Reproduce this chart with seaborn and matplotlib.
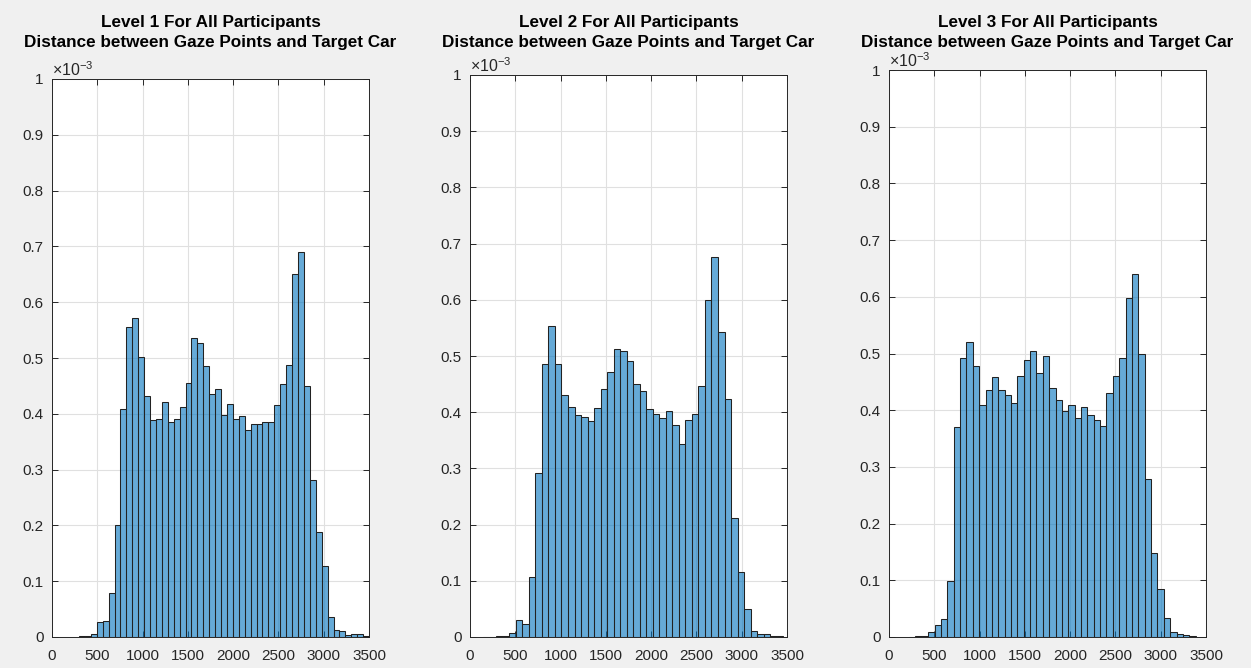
import numpy as np
import matplotlib
matplotlib.use("Agg")
import matplotlib.pyplot as plt
import seaborn as sns
from matplotlib.ticker import FuncFormatter

# ---------------- data (pdf values, in units of 1e-3) ----------------
titles = ["Level 1 For All Participants\nDistance between Gaze Points and Target Car",
          "Level 2 For All Participants\nDistance between Gaze Points and Target Car",
          "Level 3 For All Participants\nDistance between Gaze Points and Target Car"]

bin_start = [298.0, 146.0, 222.0]
bin_width = [65.35, 72.0, 70.3]

heights1 = [0.001, 0.002, 0.006, 0.026, 0.029, 0.078, 0.200, 0.409, 0.556, 0.571,
            0.501, 0.432, 0.388, 0.391, 0.421, 0.385, 0.391, 0.412, 0.456, 0.535,
            0.526, 0.485, 0.435, 0.445, 0.397, 0.417, 0.391, 0.396, 0.371, 0.382,
            0.382, 0.386, 0.386, 0.416, 0.453, 0.488, 0.650, 0.690, 0.450, 0.281,
            0.189, 0.128, 0.036, 0.013, 0.011, 0.004, 0.005, 0.005, 0.002]

heights2 = [0.0005, 0.0005, 0.001, 0.002, 0.008, 0.030, 0.024, 0.106, 0.292, 0.486,
            0.554, 0.486, 0.430, 0.410, 0.395, 0.391, 0.385, 0.407, 0.442, 0.471,
            0.512, 0.509, 0.491, 0.451, 0.438, 0.405, 0.396, 0.389, 0.402, 0.377,
            0.343, 0.387, 0.396, 0.447, 0.599, 0.676, 0.543, 0.423, 0.211, 0.116,
            0.049, 0.011, 0.006, 0.006, 0.002, 0.002]

heights3 = [0.0005, 0.001, 0.001, 0.009, 0.021, 0.032, 0.099, 0.371, 0.492, 0.520,
            0.478, 0.409, 0.435, 0.459, 0.435, 0.426, 0.412, 0.461, 0.489, 0.504,
            0.466, 0.496, 0.439, 0.418, 0.399, 0.409, 0.386, 0.405, 0.391, 0.382,
            0.372, 0.431, 0.460, 0.492, 0.598, 0.640, 0.499, 0.279, 0.148, 0.084,
            0.034, 0.009, 0.005, 0.004, 0.001]

all_heights = [heights1, heights2, heights3]
xticks = [0, 500, 1000, 1500, 2000, 2500, 3000, 3500]
yticks = [0, 0.1, 0.2, 0.3, 0.4, 0.5, 0.6, 0.7, 0.8, 0.9, 1.0]

# ---------------- style ----------------
sns.set_style("ticks")
plt.rcParams['font.family'] = ['Liberation Sans', 'DejaVu Sans']
plt.rcParams['mathtext.fontset'] = 'custom'
plt.rcParams['mathtext.rm'] = 'Liberation Sans'
plt.rcParams['mathtext.it'] = 'Liberation Sans'

W, H = 1251, 668
fig = plt.figure(figsize=(W / 100, H / 100), dpi=100)
fig.patch.set_facecolor('#f0f0f0')

# axes boxes in pixels: left, right, top, bottom
boxes = [(52, 369, 79, 637), (470, 787, 75, 637), (889, 1206, 70, 637)]

bar_color = '#0072BD'
txt_color = '#262626'

for i, (l, r, t, b) in enumerate(boxes):
    ax = fig.add_axes([l / W, (H - b) / H, (r - l) / W, (b - t) / H])
    ax.set_facecolor('white')
    h = all_heights[i]
    edges = [float(v) for v in bin_start[i] + bin_width[i] * np.arange(len(h) + 1)]
    centers = [(edges[k] + edges[k + 1]) / 2 for k in range(len(h))]
    sns.histplot(x=centers, weights=h, bins=edges, ax=ax, color=bar_color,
                 alpha=0.6, edgecolor='#222222', linewidth=0.75, zorder=2)
    ax.set_xlim(0, 3500)
    ax.set_ylim(0, 1)
    ax.set_xticks(xticks)
    ax.set_yticks(yticks)
    ax.yaxis.set_major_formatter(FuncFormatter(lambda v, p: f"{v:g}"))
    ax.set_xlabel("")
    ax.set_ylabel("")
    ax.grid(True, color='#e0e0e0', linewidth=0.8, zorder=0)
    ax.set_axisbelow(True)
    for s in ax.spines.values():
        s.set_visible(True)
        s.set_color('#262626')
        s.set_linewidth(0.7)
    ax.tick_params(axis='both', direction='in', top=True, right=True,
                   length=4, width=0.7, color='#262626', labelsize=11,
                   labelcolor=txt_color)
    ax.tick_params(axis='x', pad=9)
    ax.tick_params(axis='y', pad=6)
    ax.text(0.0, 1.0, r"$\times10^{-3}$", transform=ax.transAxes,
            ha='left', va='bottom', fontsize=11.5, color=txt_color)
    fig.text((l + r) / 2 / W, 1 - 32.5 / H, titles[i], ha='center', va='center',
             fontsize=12.3, fontweight='bold', color='black', linespacing=1.35)

fig.savefig("out.png", dpi=100, facecolor=fig.get_facecolor())
